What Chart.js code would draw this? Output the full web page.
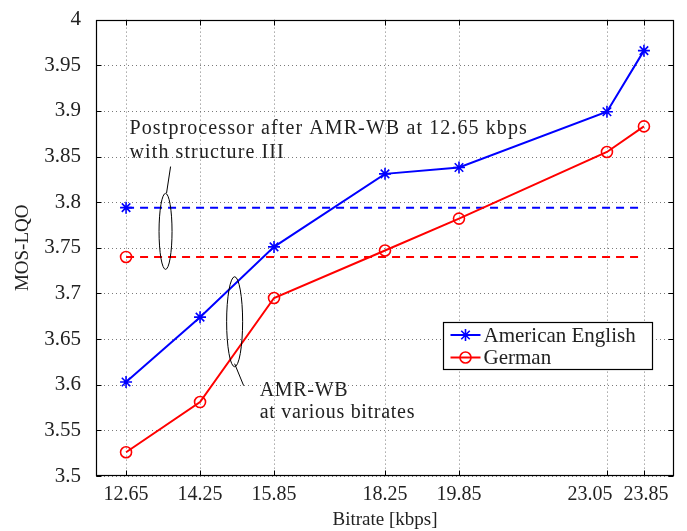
<!DOCTYPE html>
<html><head><meta charset="utf-8">
<script src="https://cdn.jsdelivr.net/npm/chart.js@4/dist/chart.umd.min.js"></script>
<style>html,body{margin:0;padding:0;background:#fff}#wrap{width:687px;height:531px}</style>
</head><body><div id="wrap"><canvas id="c" width="687" height="531"></canvas></div>
<script>
// ---- data ----
const bitrates = [12.65, 14.25, 15.85, 18.25, 19.85, 23.05, 23.85];
const bitrateLabels = ['12.65', '14.25', '15.85', '18.25', '19.85', '23.05', '23.85'];
const americanEnglish = [3.603, 3.674, 3.751, 3.831, 3.838, 3.899, 3.966];
const german = [3.526, 3.581, 3.695, 3.747, 3.782, 3.855, 3.883];
const postEnglish = 3.794;   // postprocessor after AMR-WB 12.65, American English
const postGerman = 3.740;    // postprocessor after AMR-WB 12.65, German
const xRange = [12, 24.5];
const yRange = [3.5, 4];
const yStep = 0.05;
const seriesNames = ['American English', 'German'];
const annotationText1 = ['Postprocessor after AMR-WB at 12.65 kbps', 'with structure III'];
const annotationText2 = ['AMR-WB', 'at various bitrates'];

const FONT = '"Liberation Serif", "Times New Roman", serif';
const BLUE = '#0000ff', RED = '#ff0000', TXT = '#222';

function pts(xs, ys) { return xs.map((x, i) => ({x: x, y: ys[i]})); }
const dashX = [bitrates[0], bitrates[bitrates.length - 1]];

const gridPlugin = {
  id: 'dottedGrid',
  beforeDatasetsDraw(chart) {
    const {ctx, chartArea: a, scales: {x, y}} = chart;
    ctx.save();
    ctx.strokeStyle = '#7a7a7a'; ctx.lineWidth = 1; ctx.setLineDash([1, 3]);
    ctx.beginPath();
    bitrates.forEach(v => {
      const px = Math.round(x.getPixelForValue(v)) + 0.5;
      ctx.moveTo(px, a.top); ctx.lineTo(px, a.bottom);
    });
    y.ticks.forEach(t => {
      const py = Math.round(y.getPixelForValue(t.value)) + 0.5;
      ctx.moveTo(a.left, py); ctx.lineTo(a.right, py);
    });
    ctx.stroke();
    ctx.restore();
  }
};

const frameAndAnnot = {
  id: 'frameAndAnnot',
  afterDatasetsDraw(chart) {
    const {ctx, chartArea: a, scales: {x, y}} = chart;
    ctx.save();
    // annotations (positions in data units)
    ctx.fillStyle = TXT;
    ctx.font = '20px ' + FONT;
    ctx.textBaseline = 'alphabetic';
    ctx.textAlign = 'left';
    if ('letterSpacing' in ctx) ctx.letterSpacing = '1.1px';
    ctx.fillText(annotationText1[0], x.getPixelForValue(12.725), y.getPixelForValue(3.875));
    ctx.fillText(annotationText1[1], x.getPixelForValue(12.725), y.getPixelForValue(3.848));
    if ('letterSpacing' in ctx) ctx.letterSpacing = '0.7px';
    ctx.fillText(annotationText2[0], x.getPixelForValue(15.539), y.getPixelForValue(3.588));
    ctx.fillText(annotationText2[1], x.getPixelForValue(15.539), y.getPixelForValue(3.564));
    if ('letterSpacing' in ctx) ctx.letterSpacing = '0px';
    ctx.strokeStyle = '#000'; ctx.lineWidth = 1;
    // ellipse 1
    ctx.beginPath();
    ctx.ellipse(x.getPixelForValue(13.504), y.getPixelForValue(3.768), 6.5, 38, 0, 0, Math.PI * 2);
    ctx.stroke();
    ctx.beginPath();
    ctx.moveTo(x.getPixelForValue(13.526), y.getPixelForValue(3.810));
    ctx.lineTo(x.getPixelForValue(13.613), y.getPixelForValue(3.839));
    ctx.stroke();
    // ellipse 2
    ctx.beginPath();
    ctx.ellipse(x.getPixelForValue(14.998), y.getPixelForValue(3.669), 8, 45, 0, 0, Math.PI * 2);
    ctx.stroke();
    ctx.beginPath();
    ctx.moveTo(x.getPixelForValue(14.998), y.getPixelForValue(3.623));
    ctx.lineTo(x.getPixelForValue(15.193), y.getPixelForValue(3.599));
    ctx.stroke();

    // frame
    const L = Math.round(a.left) + 0.5, R = Math.round(a.right) - 0.5;
    const T = Math.round(a.top) + 0.5, B = Math.round(a.bottom) - 0.5;
    ctx.strokeStyle = '#000'; ctx.lineWidth = 1.2;
    ctx.strokeRect(L, T, R - L, B - T);
    // inward ticks
    ctx.lineWidth = 1;
    ctx.beginPath();
    bitrates.forEach(v => {
      const px = Math.round(x.getPixelForValue(v)) + 0.5;
      ctx.moveTo(px, B); ctx.lineTo(px, B - 5);
      ctx.moveTo(px, T); ctx.lineTo(px, T + 5);
    });
    y.ticks.forEach(t => {
      const py = Math.round(y.getPixelForValue(t.value)) + 0.5;
      ctx.moveTo(L, py); ctx.lineTo(L + 5, py);
      ctx.moveTo(R, py); ctx.lineTo(R - 5, py);
    });
    ctx.stroke();

    // x tick labels (23.05 nudged left as in the original to avoid overlap)
    ctx.fillStyle = TXT;
    ctx.font = '20px ' + FONT;
    ctx.textAlign = 'center';
    ctx.textBaseline = 'alphabetic';
    const nudge = {'23.05': -17, '23.85': 2};
    bitrates.forEach((v, i) => {
      const lbl = bitrateLabels[i];
      ctx.fillText(lbl, x.getPixelForValue(v) + (nudge[lbl] || 0), a.bottom + 24);
    });

    // legend box
    const bw = 209, bh = 47;
    const bx = Math.round(a.right - 22 - bw) + 0.5, by = 322.5;
    ctx.fillStyle = '#fff';
    ctx.fillRect(bx, by, bw, bh);
    ctx.strokeStyle = '#000'; ctx.lineWidth = 1.2;
    ctx.strokeRect(bx, by, bw, bh);
    const rows = [
      {name: seriesNames[0], color: BLUE, style: 'star'},
      {name: seriesNames[1], color: RED, style: 'circle'}
    ];
    rows.forEach((r, i) => {
      const cy = by + 12.5 + i * 22.5;
      ctx.strokeStyle = r.color; ctx.lineWidth = 2;
      ctx.beginPath(); ctx.moveTo(bx + 7, cy); ctx.lineTo(bx + 37, cy); ctx.stroke();
      const mx = bx + 22;
      ctx.lineWidth = 1.6;
      ctx.beginPath();
      if (r.style === 'circle') {
        ctx.arc(mx, cy, 5.5, 0, Math.PI * 2);
      } else {
        for (let k = 0; k < 4; k++) {
          const ang = k * Math.PI / 4;
          ctx.moveTo(mx - 6 * Math.cos(ang), cy - 6 * Math.sin(ang));
          ctx.lineTo(mx + 6 * Math.cos(ang), cy + 6 * Math.sin(ang));
        }
      }
      ctx.stroke();
      ctx.fillStyle = TXT;
      ctx.font = '21px ' + FONT;
      ctx.textAlign = 'left';
      ctx.textBaseline = 'middle';
      ctx.fillText(r.name, bx + 40, cy + 1);
    });
    ctx.restore();
  }
};

new Chart(document.getElementById('c'), {
  type: 'line',
  data: {
    datasets: [
      {label: seriesNames[0], data: pts(bitrates, americanEnglish), borderColor: BLUE, backgroundColor: BLUE,
       borderWidth: 2, pointStyle: 'star', pointRadius: 6, pointBorderWidth: 1.6, pointBorderColor: BLUE},
      {label: seriesNames[1], data: pts(bitrates, german), borderColor: RED, backgroundColor: 'rgba(0,0,0,0)',
       borderWidth: 2, pointStyle: 'circle', pointRadius: 5.5, pointBorderWidth: 1.6, pointBorderColor: RED},
      {label: 'post-en', data: pts(dashX, [postEnglish, postEnglish]), borderColor: BLUE, backgroundColor: BLUE,
       borderWidth: 2, borderDash: [8, 6], pointStyle: 'star', pointRadius: [6, 0], pointBorderWidth: 1.6},
      {label: 'post-de', data: pts(dashX, [postGerman, postGerman]), borderColor: RED, backgroundColor: 'rgba(0,0,0,0)',
       borderWidth: 2, borderDash: [8, 6], pointStyle: 'circle', pointRadius: [5.5, 0], pointBorderWidth: 1.6}
    ]
  },
  options: {
    responsive: false,
    animation: false,
    events: [],
    layout: {padding: {top: 14, right: 13, left: 0, bottom: 0}},
    plugins: {legend: {display: false}, tooltip: {enabled: false}},
    elements: {line: {tension: 0}},
    scales: {
      x: {
        type: 'linear', min: xRange[0], max: xRange[1],
        afterBuildTicks: s => { s.ticks = bitrates.map(v => ({value: v})); },
        afterFit: s => { s.height = 55; },
        grid: {display: false},
        border: {display: false},
        ticks: {display: false},
        title: {display: true, text: 'Bitrate [kbps]', color: TXT, font: {family: FONT, size: 19},
                padding: {top: 0, bottom: 0}}
      },
      y: {
        type: 'linear', min: yRange[0], max: yRange[1],
        afterFit: s => { s.width = 96; },
        grid: {display: false},
        border: {display: false},
        ticks: {stepSize: yStep, padding: 7, color: TXT, font: {family: FONT, size: 21},
                callback: v => String(parseFloat(Number(v).toFixed(2)))},
        title: {display: true, text: 'MOS-LQO', color: TXT, font: {family: FONT, size: 19},
                padding: {top: 12, bottom: 0}}
      }
    }
  },
  plugins: [gridPlugin, frameAndAnnot]
});
</script></body></html>
